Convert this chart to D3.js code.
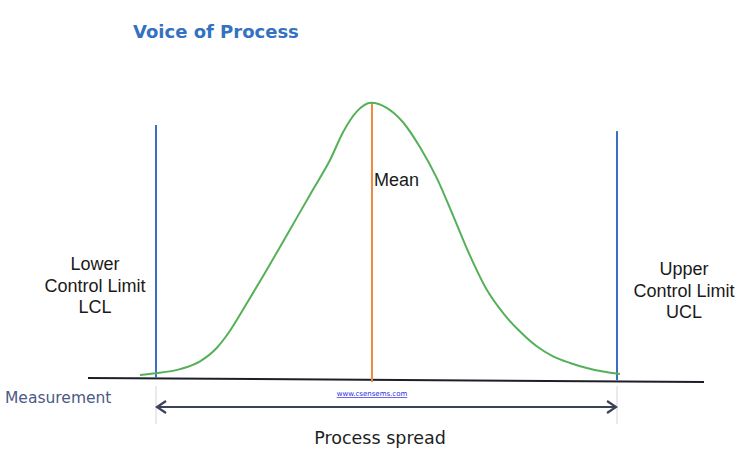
<!DOCTYPE html>
<html>
<head>
<meta charset="utf-8">
<script src="https://cdn.jsdelivr.net/npm/d3@7/dist/d3.min.js"></script>
<style>
  html, body { margin: 0; padding: 0; background: #fff; }
  svg { display: block; }
</style>
</head>
<body>
<svg id="chart" width="742" height="454"></svg>
<script>
// ---- Data (measurement units on x, relative frequency on y) ----
const curveX = [8.44, 11.04, 14.94, 18.18, 20.89, 23.05, 25.76, 28.41, 31.17, 33.88, 36.53, 39.29, 41.4, 43.62, 45.94,
                48.49, 51.14, 53.9, 56.61, 59.25, 62.01, 64.72, 67.37, 70.13, 72.84, 75.49, 78.25, 80.96, 83.6, 86.36];
const curveY = [0.011, 0.017, 0.032, 0.06, 0.108, 0.17, 0.268, 0.366, 0.471, 0.576, 0.678, 0.784, 0.884, 0.958, 0.99,
                0.972, 0.92, 0.83, 0.72, 0.585, 0.44, 0.318, 0.234, 0.167, 0.114, 0.078, 0.054, 0.036, 0.023, 0.014];
const limitNames = ["LCL", "Mean", "UCL"];
const limitX = [11.04, 46.1, 85.88];
const limitTop = [0.91, 0.99, 0.888];
const limitBottom = [0, -0.014, -0.008];
const baselineX = [0, 100];
const baselineY = [0, -0.0144];
const lowerLabel = ["Lower", "Control Limit", "LCL"];
const upperLabel = ["Upper", "Control Limit", "UCL"];
const titleText = "Voice of Process";

// ---- Scales ----
const x = d3.scaleLinear().domain([0, 100]).range([88, 704]);
const y = d3.scaleLinear().domain([0, 1]).range([378, 100]);

const svg = d3.select("#chart");

// Title
svg.append("text")
  .attr("x", 133).attr("y", 38)
  .attr("font-family", "DejaVu Sans, sans-serif")
  .attr("font-weight", "bold")
  .attr("font-size", 18)
  .attr("fill", "#3471c1")
  .text(titleText);

// Light grey guides under the limits
[limitX[0], limitX[2]].forEach(v => {
  svg.append("line")
    .attr("x1", x(v)).attr("x2", x(v))
    .attr("y1", 386).attr("y2", 424)
    .attr("stroke", "#dcdcdc").attr("stroke-width", 1.2);
});

// Baseline
svg.append("line")
  .attr("x1", x(baselineX[0])).attr("y1", y(baselineY[0]))
  .attr("x2", x(baselineX[1])).attr("y2", y(baselineY[1]))
  .attr("stroke", "#1d1f26").attr("stroke-width", 2);

// Limit lines
const limitColors = ["#3a6fc1", "#f0883e", "#3a6fc1"];
limitNames.forEach((n, i) => {
  svg.append("line")
    .attr("x1", x(limitX[i])).attr("x2", x(limitX[i]))
    .attr("y1", y(limitTop[i])).attr("y2", y(limitBottom[i]))
    .attr("stroke", limitColors[i]).attr("stroke-width", 2);
});

// Curve
const pts = curveX.map((d, i) => [d, curveY[i]]);
svg.append("path")
  .datum(pts)
  .attr("fill", "none")
  .attr("stroke", "#55b159")
  .attr("stroke-width", 2)
  .attr("d", d3.line().x(d => x(d[0])).y(d => y(d[1])).curve(d3.curveMonotoneX));

// Process spread arrow
const ay = 407;
const ax1 = x(limitX[0]), ax2 = x(limitX[2]);
svg.append("line")
  .attr("x1", ax1 + 1).attr("x2", ax2 - 1)
  .attr("y1", ay).attr("y2", ay)
  .attr("stroke", "#3b4258").attr("stroke-width", 2);
svg.append("path")
  .attr("d", `M${ax1 + 10},${ay - 6} L${ax1 + 1},${ay} L${ax1 + 10},${ay + 6}`)
  .attr("fill", "none").attr("stroke", "#3b4258").attr("stroke-width", 2.2)
  .attr("stroke-linejoin", "miter");
svg.append("path")
  .attr("d", `M${ax2 - 10},${ay - 6} L${ax2 - 1},${ay} L${ax2 - 10},${ay + 6}`)
  .attr("fill", "none").attr("stroke", "#3b4258").attr("stroke-width", 2.2)
  .attr("stroke-linejoin", "miter");

// Texts
svg.append("text")
  .attr("x", 5).attr("y", 403)
  .attr("font-family", "DejaVu Sans, sans-serif")
  .attr("font-size", 15.5)
  .attr("fill", "#4b5a86")
  .text("Measurement");

svg.append("text")
  .attr("x", 380).attr("y", 444)
  .attr("text-anchor", "middle")
  .attr("font-family", "DejaVu Sans, sans-serif")
  .attr("font-size", 17.5)
  .attr("fill", "#1e1e1e")
  .text("Process spread");

svg.append("text")
  .attr("x", 372).attr("y", 396)
  .attr("text-anchor", "middle")
  .attr("font-family", "DejaVu Sans, sans-serif")
  .attr("font-size", 7)
  .attr("fill", "#2a2ae0")
  .attr("text-decoration", "underline")
  .text("www.csensems.com");

svg.append("text")
  .attr("x", x(limitX[1]) + 2).attr("y", 186)
  .attr("font-family", "Liberation Sans, Arial, sans-serif")
  .attr("font-size", 18)
  .attr("fill", "#1a1a1a")
  .text("Mean");

const lowerT = svg.append("text")
  .attr("text-anchor", "middle")
  .attr("font-family", "Liberation Sans, Arial, sans-serif")
  .attr("font-size", 18)
  .attr("fill", "#1a1a1a");
lowerLabel.forEach((t, i) => lowerT.append("tspan").attr("x", 95).attr("y", 270 + i * 21.5).text(t));

const upperT = svg.append("text")
  .attr("text-anchor", "middle")
  .attr("font-family", "Liberation Sans, Arial, sans-serif")
  .attr("font-size", 18)
  .attr("fill", "#1a1a1a");
upperLabel.forEach((t, i) => upperT.append("tspan").attr("x", 684).attr("y", 275 + i * 21.5).text(t));
</script>
</body>
</html>
